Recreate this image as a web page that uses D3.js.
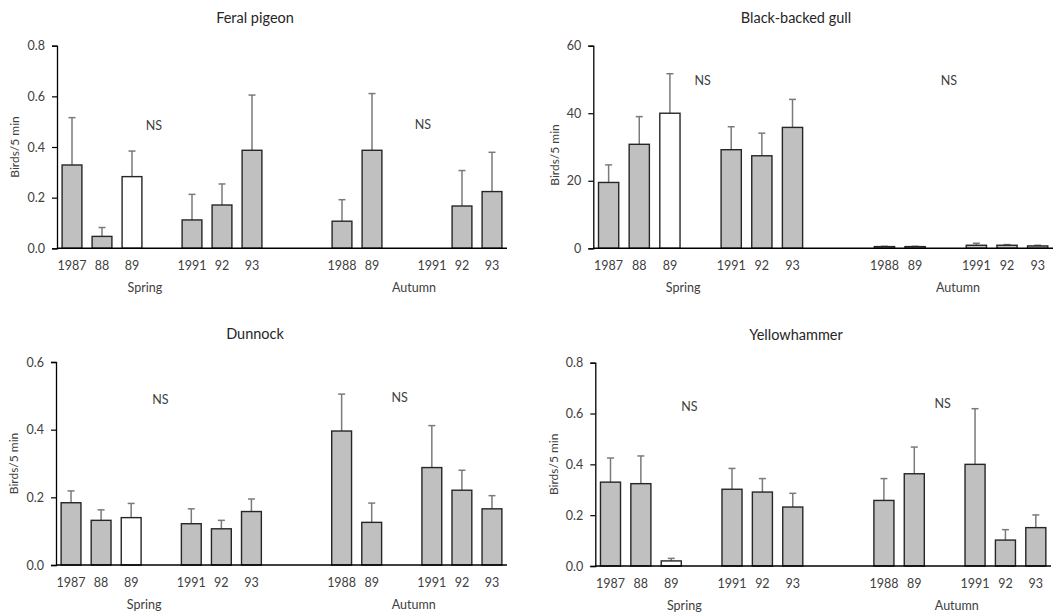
<!DOCTYPE html>
<html>
<head>
<meta charset="utf-8">
<script src="https://cdn.jsdelivr.net/npm/d3@7"></script>
<style>
  body { margin: 0; background: #fff; }
  svg { display: block; font-family: Lato, "Open Sans", sans-serif; }
</style>
</head>
<body>
<svg id="chart" width="1054" height="614"></svg>
<script>
// category slots along the x axis (blank = gap)
const slotLabels = ["1987", "88", "89", "", "1991", "92", "93", "", "", "1988", "89", "", "1991", "92", "93"];
const groupLabels = ["Spring", "Autumn"];
const hollowSlot = 2; // spring 89 drawn as open bar

// means and standard errors
const pigeonMean = [0.329, 0.047, 0.283, null, 0.112, 0.171, 0.387, null, null, 0.107, 0.387, null, 0, 0.167, 0.224];
const pigeonSE   = [0.187, 0.035, 0.101, null, 0.101, 0.083, 0.218, null, null, 0.085, 0.224, null, 0, 0.140, 0.155];

const gullMean = [19.5, 30.8, 40.0, null, 29.2, 27.4, 35.8, null, null, 0.5, 0.5, null, 0.9, 0.9, 0.7];
const gullSE   = [5.2, 8.2, 11.7, null, 6.8, 6.7, 8.3, null, null, 0.1, 0.1, null, 0.6, 0.2, 0.2];

const dunnockMean = [0.184, 0.132, 0.140, null, 0.122, 0.107, 0.158, null, null, 0.396, 0.126, null, 0.288, 0.221, 0.166];
const dunnockSE   = [0.035, 0.031, 0.042, null, 0.044, 0.025, 0.037, null, null, 0.109, 0.057, null, 0.124, 0.059, 0.039];

const yellowMean = [0.330, 0.324, 0.020, null, 0.302, 0.291, 0.232, null, null, 0.258, 0.363, null, 0.400, 0.102, 0.151];
const yellowSE   = [0.095, 0.109, 0.010, null, 0.082, 0.053, 0.054, null, null, 0.086, 0.105, null, 0.219, 0.041, 0.050];

// panel layout
const panels = [
  { title: "Feral pigeon", mean: pigeonMean, se: pigeonSE, yMax: 0.8, yStep: 0.2, fmt: ".1f",
    left: 57, right: 507, top: 45.7, bottom: 248.3, titleX: 255, ylabX: 15, ylabShift: 0,
    ns: [[3.23, 0.484], [12.2, 0.49]] },
  { title: "Black-backed gull", mean: gullMean, se: gullSE, yMax: 60, yStep: 20, fmt: "d",
    left: 593.3, right: 1053, top: 45.7, bottom: 248.3, titleX: 796, ylabX: 555, ylabShift: 8,
    ns: [[3.57, 49.8], [11.6, 49.8]] },
  { title: "Dunnock", mean: dunnockMean, se: dunnockSE, yMax: 0.6, yStep: 0.2, fmt: ".1f",
    left: 56, right: 507, top: 362, bottom: 565, titleX: 255, ylabX: 14, ylabShift: 0,
    ns: [[3.47, 0.49], [11.43, 0.494]] },
  { title: "Yellowhammer", mean: yellowMean, se: yellowSE, yMax: 0.8, yStep: 0.2, fmt: ".1f",
    left: 595.3, right: 1051, top: 362.7, bottom: 566, titleX: 796, ylabX: 554, ylabShift: 0,
    ns: [[3.1, 0.627], [11.43, 0.641]] }
];
const groupAt = [2.93, 11.9]; // group label centres in slot units

const textCol = "#404040";
const svg = d3.select("#chart");

panels.forEach(function (p) {
  const g = svg.append("g");

  const x = d3.scaleBand()
    .domain(slotLabels.map(function (d, i) { return i; }))
    .range([p.left, p.right])
    .paddingInner(0.34)
    .paddingOuter(0.17);
  const step = x.step();

  const y = d3.scaleLinear().domain([0, p.yMax]).range([p.bottom, p.top]);

  // y axis
  const yAxis = d3.axisLeft(y)
    .tickValues(d3.range(0, p.yMax + p.yStep / 2, p.yStep))
    .tickFormat(d3.format(p.fmt))
    .tickSizeOuter(0)
    .tickSize(5)
    .tickPadding(7);
  const ya = g.append("g").attr("transform", "translate(" + p.left + ",0)").call(yAxis);
  ya.select(".domain").attr("stroke", "#000").attr("stroke-width", 1.3);
  ya.selectAll(".tick line").attr("stroke", "#000").attr("stroke-width", 1.2);
  ya.selectAll(".tick text").attr("fill", textCol).style("font-size", "12.5px").style("font-family", "Lato, sans-serif");

  // error bars (upper only)
  const items = p.mean.map(function (m, i) { return { i: i, m: m, se: p.se[i] }; })
    .filter(function (d) { return d.m; });

  const eb = g.append("g").attr("stroke", "#7a7a7a").attr("stroke-width", 1.5);
  eb.selectAll("line.v").data(items).join("line")
    .attr("class", "v")
    .attr("x1", function (d) { return x(d.i) + x.bandwidth() / 2; })
    .attr("x2", function (d) { return x(d.i) + x.bandwidth() / 2; })
    .attr("y1", function (d) { return y(d.m); })
    .attr("y2", function (d) { return y(d.m + d.se); });
  eb.selectAll("line.c").data(items).join("line")
    .attr("class", "c")
    .attr("x1", function (d) { return x(d.i) + x.bandwidth() / 2 - 3.5; })
    .attr("x2", function (d) { return x(d.i) + x.bandwidth() / 2 + 3.5; })
    .attr("y1", function (d) { return y(d.m + d.se); })
    .attr("y2", function (d) { return y(d.m + d.se); });

  // bars
  g.append("g").selectAll("rect").data(items).join("rect")
    .attr("x", function (d) { return x(d.i); })
    .attr("y", function (d) { return y(d.m); })
    .attr("width", x.bandwidth())
    .attr("height", function (d) { return y(0) - y(d.m); })
    .attr("fill", function (d) { return d.i === hollowSlot ? "#ffffff" : "#c0c0c0"; })
    .attr("stroke", "#262626")
    .attr("stroke-width", 1.4);

  // x axis line
  g.append("line")
    .attr("x1", p.left).attr("x2", p.right)
    .attr("y1", y(0)).attr("y2", y(0))
    .attr("stroke", "#000").attr("stroke-width", 1.4);

  // x tick labels
  g.append("g").selectAll("text").data(slotLabels).join("text")
    .attr("x", function (d, i) { return x(i) + x.bandwidth() / 2; })
    .attr("y", y(0) + 22)
    .attr("text-anchor", "middle")
    .attr("fill", textCol)
    .style("font-size", "12.5px")
    .text(function (d) { return d; });

  // group labels
  g.append("g").selectAll("text").data(groupLabels).join("text")
    .attr("x", function (d, i) { return p.left + groupAt[i] * step; })
    .attr("y", y(0) + 44)
    .attr("text-anchor", "middle")
    .attr("fill", textCol)
    .style("font-size", "12.5px")
    .text(function (d) { return d; });

  // NS annotations
  g.append("g").selectAll("text").data(p.ns).join("text")
    .attr("x", function (d) { return p.left + d[0] * step; })
    .attr("y", function (d) { return y(d[1]) + 4.5; })
    .attr("text-anchor", "middle")
    .attr("fill", textCol)
    .style("font-size", "12.5px")
    .text("NS");

  // title
  g.append("text")
    .attr("x", p.titleX)
    .attr("y", p.top - 23)
    .attr("text-anchor", "middle")
    .attr("fill", "#262626")
    .style("font-size", "14.5px")
    .text(p.title);

  // y label
  const cy = (p.top + p.bottom) / 2 + p.ylabShift;
  g.append("text")
    .attr("transform", "translate(" + (p.ylabX + 4) + "," + cy + ") rotate(-90)")
    .attr("text-anchor", "middle")
    .attr("fill", textCol)
    .style("font-size", "12px")
    .text("Birds/5 min");
});
</script>
</body>
</html>
